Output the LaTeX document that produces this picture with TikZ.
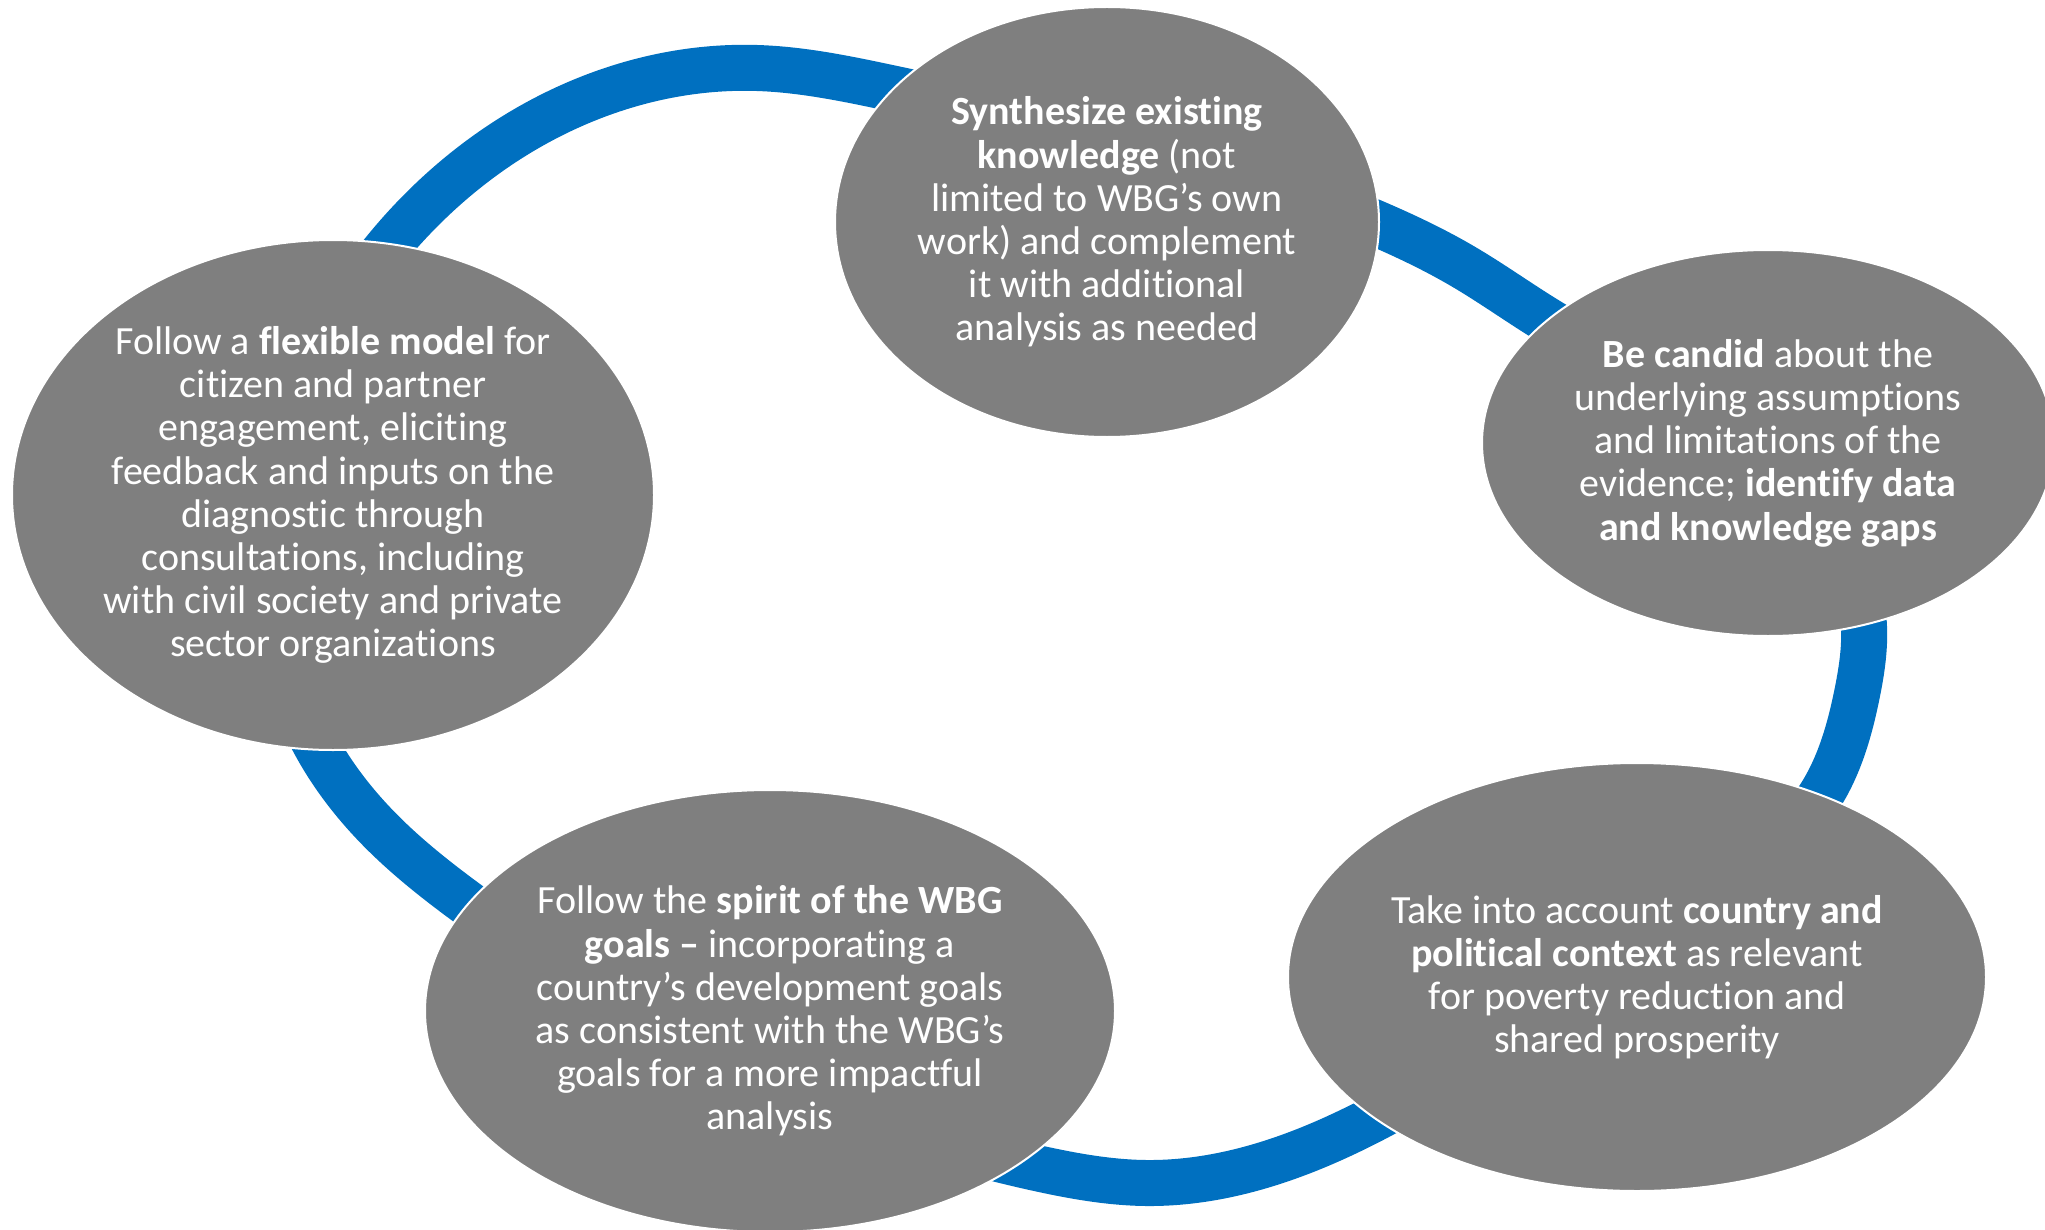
\documentclass[tikz,border=0pt]{standalone}
\usepackage{fontspec}
\setmainfont{Carlito}[Ligatures=NoCommon]
\usetikzlibrary{shapes.geometric,hobby}
\definecolor{ringblue}{HTML}{0070C0}
\definecolor{nodegray}{HTML}{7F7F7F}
\begin{document}
\begin{tikzpicture}[x=0.5pt,y=-0.5pt,
  bubble/.style={ellipse, fill=nodegray, draw=white, line width=1pt, inner sep=0pt},
  btext/.style={text=white, align=center, inner sep=0pt, font=\fontsize{20}{21.6}\selectfont},
  ring/.style={draw=ringblue, line width=23pt}]
\useasboundingbox (0,0) rectangle (2045,1230);
\clip (0,0) rectangle (2045,1230);
% ring centre line (visible stretches between the bubbles)
\coordinate (r1) at (391,243);
\coordinate (r2) at (564,109);
\coordinate (r3) at (757,68);
\coordinate (r4) at (895,89);
\coordinate (r5) at (1380,225);
\coordinate (r6) at (1464,267);
\coordinate (r7) at (1547,320);
\coordinate (r8) at (1864,627);
\coordinate (r9) at (1857,694);
\coordinate (r10) at (1822,793);
\coordinate (h1) at (1775,849);
\coordinate (h2) at (1682,923);
\coordinate (h3) at (1544,1015);
\coordinate (r11) at (1360,1126);
\coordinate (r12) at (1257,1167);
\coordinate (r13) at (1146,1183);
\coordinate (r14) at (1041,1169);
\coordinate (r15) at (467,903);
\coordinate (r16) at (381,831);
\coordinate (r17) at (318,749);
\draw[ring, use Hobby shortcut, closed=true]
  (r1)..(r2)..(r3)..(r4)..(r5)..(r6)..(r7)..(r8)..(r9)..(r10)..(h1)..(h2)..(h3)..(r11)..(r12)..(r13)..(r14)..(r15)..(r16)..(r17);
% bubbles
\node[bubble, minimum width=272pt, minimum height=215pt] (e1) at (1107,222) {};
\node[bubble, minimum width=286pt, minimum height=193pt] (e2) at (1768,443) {};
\node[bubble, minimum width=349pt, minimum height=214pt] (e3) at (1637,977) {};
\node[bubble, minimum width=345pt, minimum height=221pt] (e4) at (770,1011) {};
\node[bubble, minimum width=321pt, minimum height=255pt] (e5) at (333,495) {};
% texts
\node[btext] (t1) at (e1.center) {\textbf{Synthesize existing}\\\textbf{knowledge} (not\\limited to WBG’s own\\work) and complement\\it with additional\\analysis as needed};
\node[btext] (t2) at (e2.center) {\textbf{Be candid} about the\\underlying assumptions\\and limitations of the\\evidence; \textbf{identify data}\\\textbf{and knowledge gaps}};
\node[btext] (t3) at (e3.center) {Take into account \textbf{country and}\\\textbf{political context} as relevant\\for poverty reduction and\\shared prosperity};
\node[btext] (t4) at (e4.center) {Follow the \textbf{spirit of the WBG}\\\textbf{goals –} incorporating a\\country’s development goals\\as consistent with the WBG’s\\goals for a more impactful\\analysis};
\node[btext] (t5) at (e5.center) {Follow a \textbf{flexible model} for\\citizen and partner\\engagement, eliciting\\feedback and inputs on the\\diagnostic through\\consultations, including\\with civil society and private\\sector organizations};
\end{tikzpicture}
\end{document}
